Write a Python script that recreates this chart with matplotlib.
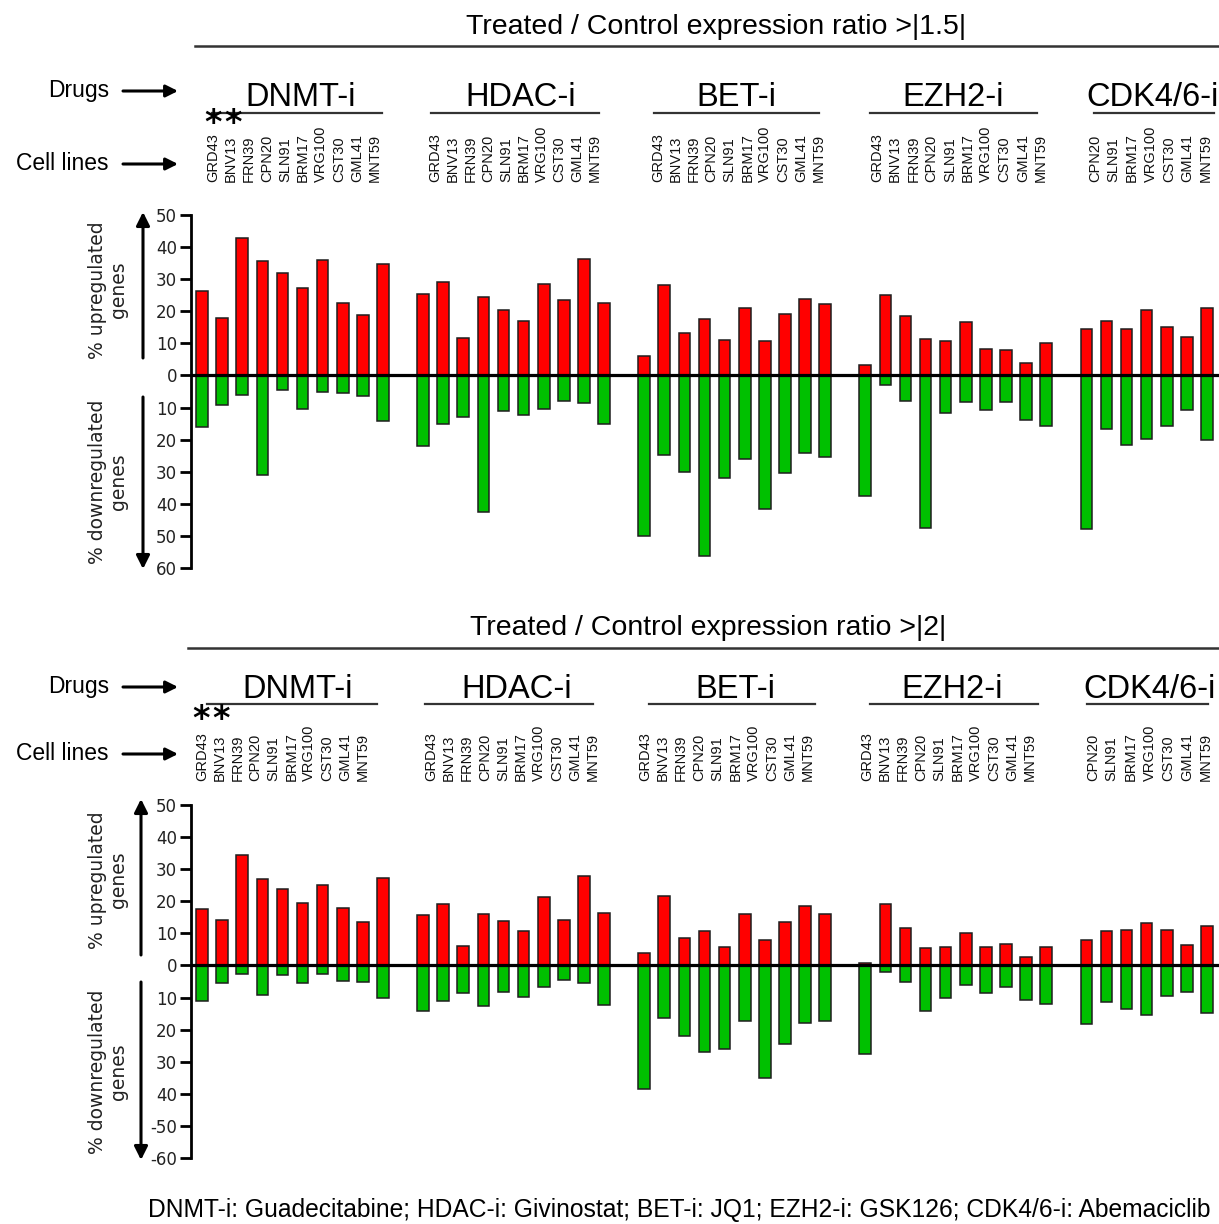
import numpy as np
import matplotlib
matplotlib.use("Agg")
import matplotlib.pyplot as plt
from matplotlib.transforms import Affine2D
from matplotlib.lines import Line2D
from matplotlib.patches import FancyArrowPatch

# -----------------------------
# Data
# -----------------------------
drugs = ["DNMT-i", "HDAC-i", "BET-i", "EZH2-i", "CDK4/6-i"]
cells_full = ["GRD43", "BNV13", "FRN39", "CPN20", "SLN91", "BRM17",
              "VRG100", "CST30", "GML41", "MNT59"]
cells_cdk = ["CPN20", "SLN91", "BRM17", "VRG100", "CST30", "GML41", "MNT59"]
group_cells = [cells_full, cells_full, cells_full, cells_full, cells_cdk]

# ratio > |1.5|
up_15 = [26.3, 18.0, 42.7, 35.7, 32.0, 27.4, 35.9, 22.6, 18.9, 34.6,
         25.3, 29.0, 11.6, 24.5, 20.3, 16.9, 28.6, 23.5, 36.3, 22.6,
         6.2, 28.2, 13.2, 17.7, 11.0, 20.9, 10.7, 19.2, 23.9, 22.3,
         3.3, 25.1, 18.6, 11.5, 10.7, 16.8, 8.2, 8.0, 4.0, 10.2,
         14.4, 17.1, 14.5, 20.4, 15.0, 12.0, 20.9]
down_15 = [16.0, 9.1, 6.1, 31.1, 4.6, 10.6, 5.3, 5.5, 6.3, 14.1,
           22.0, 15.0, 12.8, 42.7, 11.0, 12.2, 10.3, 7.9, 8.7, 15.0,
           49.9, 24.8, 30.2, 56.3, 32.0, 26.0, 41.6, 30.5, 24.2, 25.3,
           37.7, 3.0, 8.1, 47.6, 11.8, 8.3, 10.8, 8.4, 13.9, 15.6,
           47.7, 16.7, 21.8, 19.7, 15.6, 10.8, 20.2]

# ratio > |2|
up_2 = [17.6, 14.3, 34.4, 26.8, 23.7, 19.5, 25.1, 17.8, 13.6, 27.2,
        15.6, 19.1, 6.1, 15.9, 13.9, 10.7, 21.4, 14.2, 28.0, 16.3,
        3.9, 21.5, 8.4, 10.7, 5.7, 16.0, 7.9, 13.6, 18.5, 16.0,
        0.8, 19.2, 11.7, 5.4, 5.6, 10.2, 5.6, 6.6, 2.7, 5.9,
        7.8, 10.6, 11.1, 13.1, 11.1, 6.3, 12.2]
down_2 = [11.1, 5.6, 2.7, 9.1, 3.0, 5.5, 2.7, 4.8, 5.2, 10.2,
          14.3, 11.1, 8.7, 12.6, 8.3, 9.9, 6.7, 4.5, 5.5, 12.2,
          38.5, 16.3, 21.9, 27.1, 26.1, 17.4, 35.0, 24.6, 17.9, 17.4,
          27.6, 1.9, 5.2, 14.3, 10.2, 6.2, 8.5, 6.6, 10.7, 12.1,
          18.2, 11.4, 13.7, 15.4, 9.5, 8.3, 14.9]

yticks = list(range(50, -61, -10))
ytick_labels_15 = ["50", "40", "30", "20", "10", "0", "10", "20", "30", "40", "50", "60"]
ytick_labels_2 = ["50", "40", "30", "20", "10", "0", "10", "20", "30", "40", "-50", "-60"]

footer = "DNMT-i: Guadecitabine; HDAC-i: Givinostat; BET-i: JQ1; EZH2-i: GSK126; CDK4/6-i: Abemaciclib"

# bar slots: one empty slot between drug groups
xpos = []
start = 0
for cl in group_cells:
    xpos.extend(range(start, start + len(cl)))
    start += len(cl) + 1
xpos = np.array(xpos)

# -----------------------------
# Figure + pixel transform (origin top-left)
# -----------------------------
W, H = 1219, 1224
fig = plt.figure(figsize=(W / 100, H / 100), dpi=100)
fig.patch.set_facecolor("white")
T = Affine2D().scale(1 / W, -1 / H).translate(0, 1) + fig.transFigure

SANS = "Liberation Sans"
RED = "#ff0000"
GREEN = "#00c000"
EDGE = "#1e1e1e"


def hline(x0, x1, y, lw=1.6, color="#333333"):
    fig.add_artist(Line2D([x0, x1], [y, y], transform=T, color=color, lw=lw))


def arrow(x0, y0, x1, y1, lw=2.2, ms=18):
    fig.add_artist(FancyArrowPatch((x0, y0), (x1, y1), transform=T,
                                   arrowstyle="-|>", mutation_scale=ms,
                                   lw=lw, color="black", shrinkA=0, shrinkB=0))


def panel(top, bottom, up, down, tick_labels):
    ax = fig.add_axes([191 / W, 1 - bottom / H, (W - 191) / W, (bottom - top) / H])
    ax.bar(xpos, up, width=0.58, color=RED, edgecolor=EDGE, lw=1.1, zorder=2)
    ax.bar(xpos, -np.array(down), width=0.58, color=GREEN, edgecolor=EDGE, lw=1.1, zorder=2)
    ax.axhline(0, color="black", lw=2.3, zorder=3)
    ax.set_xlim(-0.55, 50.6)
    ax.set_ylim(-60, 50)
    ax.set_yticks(yticks)
    ax.set_yticklabels(tick_labels, fontsize=12, color="#222222", family="DejaVu Sans")
    ax.tick_params(axis="y", direction="out", length=8, width=2, pad=2)
    ax.set_xticks([])
    for s in ["top", "right", "bottom"]:
        ax.spines[s].set_visible(False)
    ax.spines["left"].set_linewidth(2)
    ax.patch.set_alpha(0)
    return ax


def header(title, title_y, title_x, line_y, line_x0, rows_y, grp_y, grp_ul_y,
           grp_x, grp_ul, label_x, label_base, star_y, star_x):
    fig.text(title_x, title_y, title, transform=T, ha="center", va="center",
             fontsize=20.5, family=SANS)
    hline(line_x0, W, line_y, lw=1.8)
    fig.text(109, rows_y[0], "Drugs", transform=T, ha="right", va="center",
             fontsize=16.5, family=SANS)
    arrow(123, rows_y[0], 178, rows_y[0])
    fig.text(109, rows_y[1], "Cell lines", transform=T, ha="right", va="center",
             fontsize=16.5, family=SANS)
    arrow(123, rows_y[1], 178, rows_y[1])
    for name, gx, (u0, u1), (l0, l1), cl in zip(drugs, grp_x, grp_ul, label_x, group_cells):
        fig.text(gx, grp_y, name, transform=T, ha="center", va="center",
                 fontsize=23.5, family=SANS)
        hline(u0, u1, grp_ul_y, lw=1.6)
        for lx, c in zip(np.linspace(l0, l1, len(cl)), cl):
            fig.text(lx, label_base, c, transform=T, ha="center", va="bottom",
                     rotation=90, fontsize=10.5, family=SANS, color="#111111")
    for sx in star_x:
        fig.text(sx, star_y, r"$\mathbf{*}$", transform=T, ha="center", va="center",
                 fontsize=24)


def side_labels(up_c, down_c, ax_x, up_arrow, down_arrow):
    fig.text(108, up_c, "% upregulated\ngenes", transform=T, ha="center", va="center",
             rotation=90, fontsize=13.5, family="DejaVu Sans", color="#222222",
             linespacing=1.1)
    fig.text(108, down_c, "% downregulated\ngenes", transform=T, ha="center", va="center",
             rotation=90, fontsize=13.5, family="DejaVu Sans", color="#222222",
             linespacing=1.1)
    arrow(ax_x, up_arrow[0], ax_x, up_arrow[1], lw=2.2, ms=20)
    arrow(ax_x, down_arrow[0], ax_x, down_arrow[1], lw=2.2, ms=20)


# -----------------------------
# Top panel: ratio > |1.5|
# -----------------------------
header("Treated / Control expression ratio >|1.5|", 27, 716, 46, 195, (91, 164), 98, 113,
       [301, 521, 736, 953, 1153],
       [(212, 382), (431, 599), (654, 819), (870, 1037), (1094, 1214)],
       [(213, 375), (435, 595), (658, 819), (877, 1041), (1095, 1206)],
       182, 121, [213, 233])
panel(215, 568, up_15, down_15, ytick_labels_15)
side_labels(290, 482, 143, (358, 212), (397, 569))

# -----------------------------
# Bottom panel: ratio > |2|
# -----------------------------
header("Treated / Control expression ratio >|2|", 628, 708, 648, 188, (687, 754), 690, 704,
       [298, 517, 735, 952, 1150],
       [(207, 377), (425, 593), (649, 815), (870, 1038), (1087, 1208)],
       [(202, 363), (431, 593), (645, 808), (867, 1030), (1093, 1206)],
       781, 718, [201, 221])
panel(805, 1158, up_2, down_2, ytick_labels_2)
side_labels(880, 1072, 141, (955, 799), (982, 1160))

fig.text(1210, 1210, footer, transform=T, ha="right", va="center", fontsize=17.7, family=SANS)

fig.savefig("out.png", dpi=100, facecolor="white")
